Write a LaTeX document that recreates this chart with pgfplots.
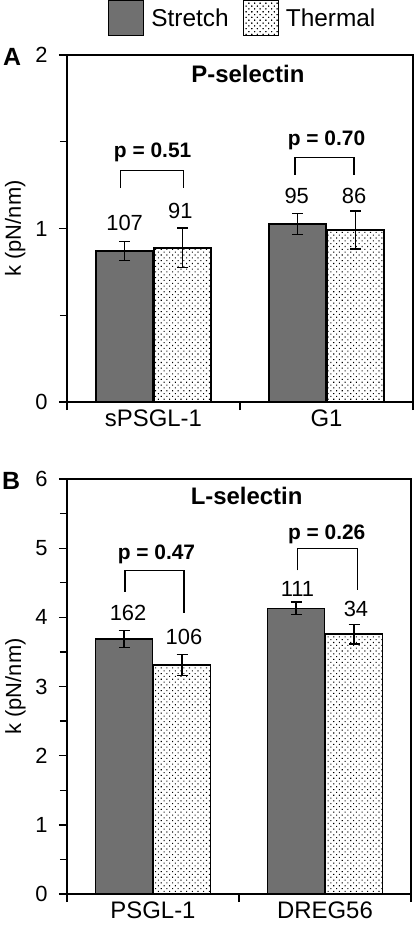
\documentclass[border=0pt]{standalone}
\usepackage{fontspec}
\setmainfont{Liberation Sans}
\usepackage{pgfplots}
\pgfplotsset{compat=1.18}
\usetikzlibrary{patterns.meta}
\newcommand\fs[1]{\fontsize{#1}{#1}\selectfont}
\pgfplotsset{
  stretchbar/.style={draw=black, line width=1.5bp, fill=black!56,
    legend image code/.code={\draw[draw=black, line width=1.2bp, fill=black!56] (0bp,-17bp) rectangle (35bp,18bp);}},
  thermalbar/.style={draw=black, line width=1.5bp, fill=white,
    postaction={pattern={Dots[distance=4bp, radius=0.75bp, angle=45]}},
    legend image code/.code={\draw[draw=black, line width=1.2bp, fill=white, postaction={pattern={Dots[distance=4bp, radius=0.75bp, angle=45]}}] (0bp,-17bp) rectangle (35bp,18bp);}},
  panel/.style={
    scale only axis,
    xmin=0, xmax=2,
    ybar=1bp, bar width=57bp,
    xtick={0,1,2}, xticklabels={},
    extra x tick style={major tick length=0pt},
    tick align=outside, tick pos=left,
    major tick length=8bp, minor tick length=7bp,
    axis line style={line width=1.3bp},
    every tick/.style={line width=1.3bp, black},
    yticklabel style={font=\fs{22}, xshift=-8bp},
    xticklabel style={font=\fs{24}, yshift=-4bp},
    /pgf/number format/assume math mode=true,
    ylabel={k (pN/nm)},
    ylabel style={font=\fs{22}, at={(axis description cs:-0.150,0.5)}, anchor=center},
    error bars/y dir=both, error bars/y explicit,
    error bars/error mark=-,
    error bars/error bar style={line width=1.3bp, black, solid},
    error bars/error mark options={rotate=90, line width=1.4bp, black, solid, mark size=5.5bp},
    clip=false,
  },
}
\begin{document}
\begin{tikzpicture}[x=1bp,y=1bp]
\useasboundingbox (0,0) rectangle (415,-931);
% Panel A
\begin{axis}[panel,
  at={(67bp,-402bp)}, anchor=south west,
  width=346bp, height=347bp,
  ymin=0, ymax=2, ytick={0,1,2}, minor ytick={0.5,1.5},
  extra x ticks={0.5,1.5}, extra x tick labels={sPSGL-1,G1},
  legend columns=2,
  legend style={draw=none, fill=none, font=\fs{24.5}, inner sep=0pt,
    at={(axis description cs:0.1185,1.055)}, anchor=south west,
    /tikz/every odd column/.append style={column sep=5bp},
    /tikz/every even column/.append style={column sep=12bp}},
]
\addplot[stretchbar] coordinates {(0.5,0.87) +- (0,0.055) (1.5,1.026) +- (0,0.06)};
\addlegendentry{Stretch}
\addplot[thermalbar] coordinates {(0.5,0.889) +- (0,0.115) (1.5,0.991) +- (0,0.11)};
\addlegendentry{Thermal}
\node[font=\bfseries\fs{24}] at (axis description cs:0.523,0.945) {P-selectin};
\node[font=\fs{22}] at (axis cs:0.333,1.03) {107};
\node[font=\fs{22}] at (axis cs:0.655,1.10) {91};
\node[font=\fs{22}] at (axis cs:1.328,1.19) {95};
\node[font=\fs{22}] at (axis cs:1.66,1.19) {86};
\draw[line width=1.2bp] (axis cs:0.31,1.233) -- (axis cs:0.31,1.333) -- (axis cs:0.675,1.333) -- (axis cs:0.675,1.233);
\draw[line width=1.2bp] (axis cs:1.318,1.31) -- (axis cs:1.318,1.41) -- (axis cs:1.659,1.41) -- (axis cs:1.659,1.31);
\node[font=\bfseries\fs{21}] at (axis cs:0.495,1.44) {p = 0.51};
\node[font=\bfseries\fs{21}] at (axis cs:1.5,1.51) {p = 0.70};
\end{axis}
\node[font=\bfseries\fs{25}] at (12bp,-57bp) {A};
% Panel B
\begin{axis}[panel,
  at={(67bp,-894bp)}, anchor=south west,
  width=344bp, height=415bp,
  ymin=0, ymax=6, ytick={0,1,...,6}, minor ytick={0.5,1.5,...,5.5},
  extra x ticks={0.5,1.5}, extra x tick labels={PSGL-1,DREG56},
]
\addplot[stretchbar] coordinates {(0.5,3.685) +- (0,0.125) (1.5,4.13) +- (0,0.09)};
\addplot[thermalbar] coordinates {(0.5,3.31) +- (0,0.15) (1.5,3.757) +- (0,0.14)};
\node[font=\bfseries\fs{24}] at (axis description cs:0.522,0.959) {L-selectin};
\node[font=\fs{22}] at (axis cs:0.355,4.06) {162};
\node[font=\fs{22}] at (axis cs:0.68,3.72) {106};
\node[font=\fs{22}] at (axis cs:1.34,4.41) {111};
\node[font=\fs{22}] at (axis cs:1.68,4.12) {34};
\draw[line width=1.2bp] (axis cs:0.337,4.37) -- (axis cs:0.337,4.68) -- (axis cs:0.68,4.68) -- (axis cs:0.68,4.06);
\draw[line width=1.2bp] (axis cs:1.34,4.68) -- (axis cs:1.34,5.0) -- (axis cs:1.69,5.0) -- (axis cs:1.69,4.39);
\node[font=\bfseries\fs{21}] at (axis cs:0.52,4.91) {p = 0.47};
\node[font=\bfseries\fs{21}] at (axis cs:1.51,5.2) {p = 0.26};
\end{axis}
\node[font=\bfseries\fs{25}] at (11bp,-481bp) {B};
\end{tikzpicture}
\end{document}
